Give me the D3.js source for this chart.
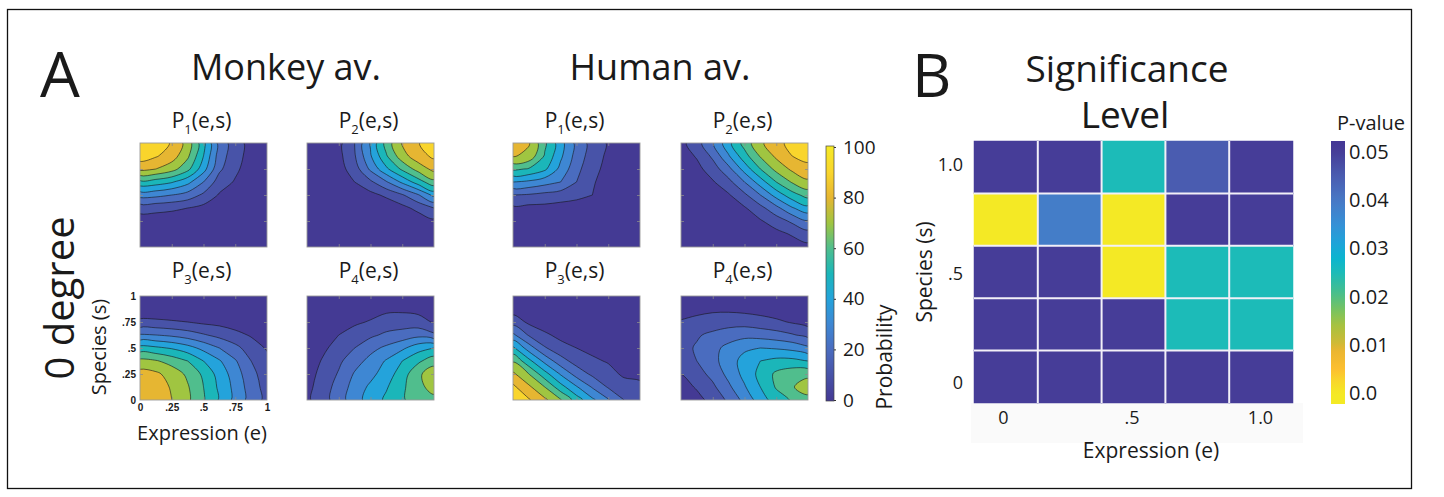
<!DOCTYPE html>
<html>
<head>
<meta charset="utf-8">
<script src="https://cdn.jsdelivr.net/npm/d3@7"></script>
<style>
body { margin: 0; background: #fff; }
svg text { font-family: "Open Sans", "Noto Sans", sans-serif; fill: #1a1a1a; }
</style>
</head>
<body>
<svg id="fig" width="1444" height="497"></svg>
<script>
// probability grids, rows go from s=1 (top) to s=0 (bottom), columns e=0 .. 1 (step .125)
var monkeyP1 = [
  [100, 96, 89, 76, 53, 26, 15, 6, 2],
  [95, 91, 85, 72, 50, 25, 14, 6, 2],
  [83, 80, 74, 63, 44, 22, 12, 5, 2],
  [57, 55, 51, 43, 30, 15, 9, 3, 1],
  [34, 33, 30, 26, 18, 9, 5, 2, 1],
  [14, 13, 12, 10, 7, 4, 2, 1, 0],
  [5, 5, 4, 4, 3, 1, 1, 0, 0],
  [2, 2, 2, 2, 1, 1, 0, 0, 0],
  [1, 1, 1, 1, 1, 0, 0, 0, 0]
];
var monkeyP2 = [
  [0, 1, 7, 20, 41, 64, 81, 89, 100],
  [0, 1, 7, 19, 39, 59, 76, 86, 92],
  [0, 1, 6, 15, 32, 48, 62, 74, 83],
  [0, 1, 5, 10, 18, 29, 42, 55, 67],
  [0, 0, 1, 3, 7, 12, 19, 29, 43],
  [0, 0, 0, 0, 1, 3, 7, 13, 20],
  [0, 0, 0, 0, 0, 0, 1, 4, 8],
  [0, 0, 0, 0, 0, 0, 0, 0, 2],
  [0, 0, 0, 0, 0, 0, 0, 0, 0]
];
var monkeyP3 = [
  [1, 1, 1, 1, 1, 0, 0, 0, 0],
  [4, 3, 3, 3, 2, 2, 1, 1, 1],
  [12, 12, 11, 10, 8, 7, 5, 4, 2],
  [31, 30, 28, 25, 21, 17, 13, 9, 6],
  [54, 52, 49, 44, 37, 30, 23, 15, 9],
  [73, 71, 66, 60, 50, 41, 31, 20, 13],
  [84, 82, 76, 68, 58, 46, 35, 23, 15],
  [87, 85, 79, 71, 60, 48, 37, 25, 16],
  [88, 86, 80, 72, 61, 49, 37, 26, 17]
];
var monkeyP4 = [
  [0, 1, 1, 2, 2, 4, 4, 3, 1],
  [1, 2, 3, 4, 5, 8, 8, 7, 3],
  [1, 3, 6, 8, 11, 14, 15, 14, 9],
  [2, 5, 10, 15, 18, 22, 24, 27, 22],
  [3, 8, 14, 20, 27, 32, 38, 46, 50],
  [4, 11, 18, 26, 33, 41, 50, 58, 66],
  [6, 13, 21, 31, 37, 45, 55, 68, 76],
  [7, 15, 24, 34, 42, 49, 58, 67, 74],
  [8, 16, 25, 36, 44, 52, 59, 64, 67]
];
var humanP1 = [
  [88, 81, 62, 44, 27, 16, 9, 4, 2],
  [81, 77, 59, 42, 26, 15, 8, 3, 2],
  [62, 59, 52, 37, 23, 13, 7, 3, 1],
  [40, 38, 34, 30, 20, 11, 6, 3, 1],
  [20, 19, 17, 15, 13, 10, 5, 2, 1],
  [8, 7, 7, 6, 5, 4, 4, 2, 1],
  [3, 2, 2, 2, 2, 1, 1, 1, 1],
  [1, 1, 1, 1, 1, 0, 0, 0, 0],
  [0, 0, 0, 0, 0, 0, 0, 0, 0]
];
var humanP2 = [
  [7, 16, 29, 47, 64, 78, 87, 93, 98],
  [5, 11, 22, 39, 56, 71, 82, 90, 93],
  [3, 7, 15, 27, 44, 60, 73, 82, 87],
  [1, 4, 9, 17, 30, 45, 60, 71, 78],
  [0, 1, 4, 9, 18, 30, 44, 56, 64],
  [0, 0, 2, 5, 9, 17, 27, 39, 47],
  [0, 0, 1, 2, 4, 9, 15, 22, 29],
  [0, 0, 0, 0, 1, 4, 7, 11, 16],
  [0, 0, 0, 0, 0, 1, 3, 5, 7]
];
var humanP3 = [
  [1, 0, 0, 0, 0, 0, 0, 0, 0],
  [5, 2, 1, 0, 0, 0, 0, 0, 0],
  [16, 8, 4, 2, 1, 0, 0, 0, 0],
  [32, 19, 12, 7, 4, 2, 1, 0, 0],
  [52, 35, 21, 14, 10, 7, 4, 2, 1],
  [69, 53, 37, 24, 16, 12, 9, 6, 4],
  [82, 70, 54, 39, 26, 18, 14, 8, 8],
  [92, 82, 70, 54, 41, 29, 19, 15, 12],
  [98, 91, 82, 71, 55, 42, 31, 20, 16]
];
var humanP4 = [
  [2, 2, 3, 3, 2, 2, 1, 1, 0],
  [5, 7, 8, 8, 7, 6, 4, 3, 2],
  [11, 13, 15, 16, 16, 14, 12, 9, 6],
  [16, 19, 22, 25, 27, 26, 24, 21, 17],
  [17, 21, 27, 33, 38, 40, 39, 37, 32],
  [14, 20, 27, 35, 44, 50, 53, 53, 50],
  [10, 16, 23, 33, 43, 53, 62, 66, 67],
  [6, 11, 18, 28, 39, 50, 61, 69, 76],
  [3, 7, 13, 22, 33, 45, 55, 61, 66]
];

var levels = [10, 20, 30, 40, 50, 60, 70, 80, 90];
var probStops = [0, 10, 20, 30, 40, 50, 60, 70, 80, 90, 100];
var probColors = ["#443a94", "#4853a8", "#4a6cbf", "#3e87d3", "#24a3db", "#1bb6b9",
                  "#50be8d", "#a0c541", "#e6b632", "#f9d52c", "#f5e926"];
var probTicks = [0, 20, 40, 60, 80, 100];
var axisTicks = [0, 0.25, 0.5, 0.75, 1];

// panel B: p-values, rows s = 1.0 .. 0, columns e = 0 .. 1.0
var sigE = [0, 0.25, 0.5, 0.75, 1];
var sigS = [1, 0.75, 0.5, 0.25, 0];
var sigP = [
  [0.05, 0.05, 0.025, 0.045, 0.05],
  [0.0, 0.039, 0.0, 0.05, 0.05],
  [0.05, 0.05, 0.0, 0.025, 0.025],
  [0.05, 0.05, 0.05, 0.025, 0.025],
  [0.05, 0.05, 0.05, 0.05, 0.05]
];
var pStops = [-0.003, 0.0, 0.003, 0.005, 0.009, 0.010, 0.014, 0.017, 0.021, 0.025, 0.028,
              0.031, 0.035, 0.040, 0.045, 0.050, 0.053];
var pColors = ["#f4ea24", "#f4e925", "#f9d32c", "#fcbf30", "#eab531", "#d4b935", "#a8c23f",
               "#7cc35d", "#45be8e", "#1cbbb8", "#0bb4cf", "#1ea4d9", "#3690d6", "#4878c5",
               "#4a5cb0", "#463d98", "#433494"];
var pTicks = [0, 0.01, 0.02, 0.03, 0.04, 0.05];

var svg = d3.select("#fig");
var defs = svg.append("defs");
var PW = 127, PH = 104;
var clipN = 0;

var bandColor = d3.scaleThreshold().domain(levels).range(probColors.slice(0, 10));
var probColor = d3.scaleLinear().domain(probStops).range(probColors);
var pColor = d3.scaleLinear().domain(pStops).range(pColors);

// frame
svg.append("rect").attr("x", 7.5).attr("y", 9.5).attr("width", 1404).attr("height", 479)
  .attr("fill", "none").attr("stroke", "#111").attr("stroke-width", 1.3);

function contourPanel(grid, x0, y0) {
  var n = grid.length;
  var xs = d3.scaleLinear().domain([0.5, n - 0.5]).range([x0, x0 + PW]);
  var ys = d3.scaleLinear().domain([0.5, n - 0.5]).range([y0, y0 + PH]);
  var flat = [].concat.apply([], grid);
  var polys = d3.contours().size([n, n]).thresholds(levels)(flat);
  var id = "clip" + (clipN++);
  defs.append("clipPath").attr("id", id).append("rect")
    .attr("x", x0).attr("y", y0).attr("width", PW).attr("height", PH);
  var g = svg.append("g").attr("clip-path", "url(#" + id + ")");
  g.append("rect").attr("x", x0).attr("y", y0).attr("width", PW).attr("height", PH)
    .attr("fill", bandColor(0));
  var line = d3.line().x(d => xs(d[0])).y(d => ys(d[1]))
    .curve(d3.curveCatmullRomClosed.alpha(0.5));
  polys.forEach(function(c) {
    var d = c.coordinates.map(poly => poly.map(ring => line(ring.slice(0, -1))).join("")).join("");
    if (!d) return;
    g.append("path").attr("d", d).attr("fill", bandColor(c.value)).attr("fill-rule", "evenodd")
      .attr("stroke", "#15151a").attr("stroke-width", 0.6);
  });

  // axes box with inner ticks
  var ex = d3.scaleLinear().domain([0, 1]).range([x0, x0 + PW]);
  var sy = d3.scaleLinear().domain([0, 1]).range([y0 + PH, y0]);
  var inner = [0.25, 0.5, 0.75];
  var ax = svg.append("g").attr("class", "paxis");
  ax.append("g").attr("transform", "translate(0," + (y0 + PH) + ")")
    .call(d3.axisBottom(ex).tickValues(inner).tickSize(-3).tickFormat(""));
  ax.append("g").attr("transform", "translate(0," + y0 + ")")
    .call(d3.axisTop(ex).tickValues(inner).tickSize(-3).tickFormat(""));
  ax.append("g").attr("transform", "translate(" + x0 + ",0)")
    .call(d3.axisLeft(sy).tickValues(inner).tickSize(-3).tickFormat(""));
  ax.append("g").attr("transform", "translate(" + (x0 + PW) + ",0)")
    .call(d3.axisRight(sy).tickValues(inner).tickSize(-3).tickFormat(""));
  ax.selectAll(".domain").remove();
  ax.selectAll(".tick line").attr("stroke", "#8a8a8a").attr("stroke-width", 0.8);
  svg.append("rect").attr("x", x0).attr("y", y0).attr("width", PW).attr("height", PH)
    .attr("fill", "none").attr("stroke", "#9a9a9a").attr("stroke-width", 0.9);
  return {ex: ex, sy: sy};
}

function pLabel(cx, y, sub) {
  var t = svg.append("text").attr("x", cx).attr("y", y).attr("text-anchor", "middle")
    .style("font-size", "21px");
  t.append("tspan").text("P");
  t.append("tspan").attr("dy", 6).style("font-size", "13px").text(sub);
  t.append("tspan").attr("dy", -6).text("(e,s)");
}

var panels = [
  {grid: monkeyP1, x: 140, y: 143, sub: "1"},
  {grid: monkeyP2, x: 307, y: 143, sub: "2"},
  {grid: monkeyP3, x: 140, y: 296, sub: "3"},
  {grid: monkeyP4, x: 307, y: 296, sub: "4"},
  {grid: humanP1, x: 513, y: 143, sub: "1"},
  {grid: humanP2, x: 681, y: 143, sub: "2"},
  {grid: humanP3, x: 513, y: 296, sub: "3"},
  {grid: humanP4, x: 681, y: 296, sub: "4"}
];
var sc = panels.map(function(p) {
  var s = contourPanel(p.grid, p.x, p.y);
  pLabel(p.x + PW / 2 - 2, p.y - (p.y < 200 ? 15 : 18), p.sub);
  return s;
});

// tick labels on the monkey P3 panel
var fmtTick = d => d === 0 ? "0" : d === 1 ? "1" : String(d).replace(/^0/, "");
var lab = svg.append("g").attr("class", "plab");
lab.append("g").attr("transform", "translate(0,400)")
  .call(d3.axisBottom(sc[2].ex).tickValues(axisTicks).tickSize(0).tickPadding(4).tickFormat(fmtTick));
lab.append("g").attr("transform", "translate(140,0)")
  .call(d3.axisLeft(sc[2].sy).tickValues(axisTicks).tickSize(0).tickPadding(4).tickFormat(fmtTick));
lab.selectAll(".domain").remove();
lab.selectAll("text").style("font-family", "'Liberation Sans', Arial, sans-serif")
  .style("font-size", "10px").style("font-weight", "bold").attr("fill", "#222");

// panel A texts
svg.append("text").attr("x", 40).attr("y", 97).style("font-size", "63px").text("A");
svg.append("text").attr("x", 286).attr("y", 80).attr("text-anchor", "middle")
  .style("font-size", "36px").text("Monkey av.");
svg.append("text").attr("x", 660).attr("y", 80).attr("text-anchor", "middle")
  .style("font-size", "36px").text("Human av.");
svg.append("text").attr("transform", "translate(74,298) rotate(-90)").attr("text-anchor", "middle")
  .style("font-size", "40px").text("0 degree");
svg.append("text").attr("transform", "translate(106,347) rotate(-90)").attr("text-anchor", "middle")
  .style("font-size", "20px").text("Species (s)");
svg.append("text").attr("x", 202).attr("y", 440).attr("text-anchor", "middle")
  .style("font-size", "20px").text("Expression (e)");

// probability colorbar
var probY = d3.scaleLinear().domain([0, 100]).range([400, 147]);
var pg = defs.append("linearGradient").attr("id", "probGrad").attr("gradientUnits", "userSpaceOnUse")
  .attr("x1", 0).attr("x2", 0).attr("y1", probY(0)).attr("y2", probY(100));
d3.range(0, 101, 2).forEach(function(v) {
  pg.append("stop").attr("offset", v / 100).attr("stop-color", probColor(v));
});
svg.append("rect").attr("x", 826).attr("y", 146).attr("width", 8).attr("height", 255)
  .attr("fill", "url(#probGrad)").attr("stroke", "#444").attr("stroke-width", 0.7);
var pax = svg.append("g").attr("transform", "translate(834,0)")
  .call(d3.axisRight(probY).tickValues(probTicks).tickSize(2).tickPadding(7));
pax.select(".domain").remove();
pax.selectAll("text").style("font-size", "19px").style("font-family", "'Open Sans', sans-serif").attr("fill", "#1a1a1a");
pax.selectAll("line").attr("stroke", "#333");
svg.append("text").attr("transform", "translate(892,357) rotate(-90)").attr("text-anchor", "middle")
  .style("font-size", "21px").text("Probability");

// panel B
svg.append("text").attr("x", 912).attr("y", 97).style("font-size", "61px").text("B");
svg.append("text").attr("x", 1127).attr("y", 82).attr("text-anchor", "middle")
  .style("font-size", "37px").text("Significance");
svg.append("text").attr("x", 1125).attr("y", 128).attr("text-anchor", "middle")
  .style("font-size", "37px").text("Level");

svg.append("rect").attr("x", 971).attr("y", 403).attr("width", 332).attr("height", 40).attr("fill", "#fafafa");

var bx = d3.scaleBand().domain(sigE).range([974, 1293]);
var by = d3.scaleBand().domain(sigS).range([141, 403]);
sigP.forEach(function(row, i) {
  row.forEach(function(v, j) {
    svg.append("rect").attr("x", bx(sigE[j])).attr("y", by(sigS[i]))
      .attr("width", bx.bandwidth()).attr("height", by.bandwidth())
      .attr("fill", pColor(v)).attr("stroke", pColor(v)).attr("stroke-width", 0.5);
  });
});
sigE.slice(1).forEach(function(e) {
  svg.append("line").attr("x1", bx(e)).attr("x2", bx(e)).attr("y1", 141).attr("y2", 403)
    .attr("stroke", "#f2f0f8").attr("stroke-width", 2);
});
sigS.slice(1).forEach(function(s) {
  svg.append("line").attr("x1", 974).attr("x2", 1293).attr("y1", by(s)).attr("y2", by(s))
    .attr("stroke", "#f2f0f8").attr("stroke-width", 2);
});

var fmtB = d => d === 0 ? "0" : d === 1 ? "1.0" : ".5";
var sTick = d3.scaleLinear().domain([0, 1]).range([383, 165]);
var eTick = d3.scaleLinear().domain([0, 1]).range([1003, 1260]);
var bax = svg.append("g").attr("class", "bax");
bax.append("g").attr("transform", "translate(966,0)")
  .call(d3.axisLeft(sTick).tickValues([0, 0.5, 1]).tickSize(0).tickPadding(3).tickFormat(fmtB));
bax.append("g").attr("transform", "translate(0,411)")
  .call(d3.axisBottom(eTick).tickValues([0, 0.5, 1]).tickSize(0).tickPadding(0).tickFormat(fmtB));
bax.selectAll(".domain").remove();
bax.selectAll("text").style("font-size", "18px").style("font-family", "'Open Sans', sans-serif").attr("fill", "#1a1a1a");

svg.append("text").attr("x", 1151).attr("y", 458).attr("text-anchor", "middle")
  .style("font-size", "21px").text("Expression (e)");
svg.append("text").attr("transform", "translate(932,272) rotate(-90)").attr("text-anchor", "middle")
  .style("font-size", "21px").text("Species (s)");

// p-value colorbar
var pY = d3.scaleLinear().domain([0, 0.05]).range([393.5, 151.7]);
var pgr = defs.append("linearGradient").attr("id", "pGrad").attr("gradientUnits", "userSpaceOnUse")
  .attr("x1", 0).attr("x2", 0).attr("y1", 404).attr("y2", 141);
d3.range(0, 61).forEach(function(k) {
  var y = 404 - k * (263 / 60);
  pgr.append("stop").attr("offset", k / 60).attr("stop-color", pColor(pY.invert(y)));
});
svg.append("rect").attr("x", 1331).attr("y", 141).attr("width", 14).attr("height", 263)
  .attr("fill", "url(#pGrad)");
var ppx = svg.append("g").attr("transform", "translate(1345,0)")
  .call(d3.axisRight(pY).tickValues(pTicks).tickSize(0).tickPadding(4)
    .tickFormat(d => d === 0 ? "0.0" : d3.format(".2f")(d)));
ppx.select(".domain").remove();
ppx.selectAll("text").style("font-size", "20px").style("font-family", "'Open Sans', sans-serif").attr("fill", "#1a1a1a");
svg.append("text").attr("x", 1371).attr("y", 130).attr("text-anchor", "middle")
  .style("font-size", "20px").text("P-value");
</script>
</body>
</html>
